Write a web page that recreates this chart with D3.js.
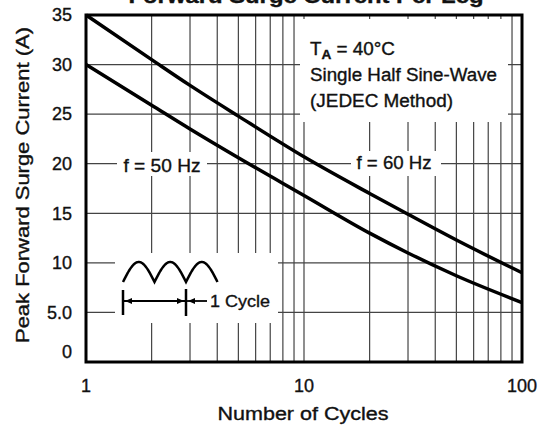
<!DOCTYPE html>
<html>
<head>
<meta charset="utf-8">
<script src="https://cdn.jsdelivr.net/npm/d3@7"></script>
<style>
  body { margin: 0; background: #fff; }
  text { font-family: "Liberation Sans", Arial, sans-serif; fill: #111; stroke: #111; stroke-width: 0.35px; }
</style>
</head>
<body>
<div id="chart"></div>
<script>
// values
const cycles = [1, 2, 3, 5, 10, 20, 30, 50, 100];
const surge60Hz = [35, 30.5, 27.9, 24.8, 20.7, 17.0, 14.9, 12.3, 9.0];
const surge50Hz = [30, 25.9, 23.5, 20.6, 16.8, 13.0, 11.0, 8.7, 6.0];
const yTicks = [0, 5, 10, 15, 20, 25, 30, 35];
const yTickLabels = ["0", "5.0", "10", "15", "20", "25", "30", "35"];
const xTicks = [1, 10, 100];
const xGrid = [2, 3, 4, 5, 6, 7, 8, 9, 10, 20, 30, 40, 50, 60, 70, 80, 90];
const yGrid = [5, 10, 15, 20, 25, 30];

const width = 543, height = 428;
const margin = { top: 15, right: 21, bottom: 66, left: 86 };
const w = width - margin.left - margin.right;
const h = height - margin.top - margin.bottom;

const svg = d3.select("#chart").append("svg")
  .attr("width", width)
  .attr("height", height);

const x = d3.scaleLog().domain([1, 100]).range([0, w]);
const y = d3.scaleLinear().domain([0, 35]).range([h, 0]);

// the scanned lettering is wider than Arial, so stretch to the measured widths
function stretch(sel, len) {
  return sel.attr("textLength", len).attr("lengthAdjust", "spacingAndGlyphs");
}

// title, mostly cut off at the top edge
stretch(svg.append("text")
  .attr("x", 306).attr("y", 3)
  .attr("text-anchor", "middle")
  .style("font-size", "20px").style("font-weight", "bold")
  .text("Forward Surge Current Per Leg"), 355);

const g = svg.append("g")
  .attr("transform", "translate(" + margin.left + "," + margin.top + ")");

// grid
g.selectAll("line.vgrid").data(xGrid).enter().append("line")
  .attr("class", "vgrid")
  .attr("x1", d => x(d)).attr("x2", d => x(d))
  .attr("y1", 0).attr("y2", h)
  .attr("stroke", "#444").attr("stroke-width", 1.2);

g.selectAll("line.hgrid").data(yGrid).enter().append("line")
  .attr("class", "hgrid")
  .attr("x1", 0).attr("x2", w)
  .attr("y1", d => y(d)).attr("y2", d => y(d))
  .attr("stroke", "#444").attr("stroke-width", 1.2);

// white boxes behind annotations
function blank(x0, y0, x1, y1) {
  g.append("rect")
    .attr("x", x0 - margin.left).attr("y", y0 - margin.top)
    .attr("width", x1 - x0).attr("height", y1 - y0)
    .attr("fill", "#fff");
}
blank(300, 19, 508, 122);
blank(351, 151, 441, 176);
blank(117, 152, 207, 176);
blank(115, 253, 278, 323);

// curves
const line = d3.line()
  .x(d => x(d[0]))
  .y(d => y(d[1]))
  .curve(d3.curveMonotoneX);

[surge60Hz, surge50Hz].forEach(function (s) {
  g.append("path")
    .datum(cycles.map((c, i) => [c, s[i]]))
    .attr("d", line)
    .attr("fill", "none")
    .attr("stroke", "#000")
    .attr("stroke-width", 3.5);
});

// frame
g.append("rect")
  .attr("width", w).attr("height", h)
  .attr("fill", "none")
  .attr("stroke", "#000").attr("stroke-width", 3);

// y tick labels
g.selectAll("text.ytick").data(yTicks).enter().append("text")
  .attr("class", "ytick")
  .attr("x", -14)
  .attr("y", d => y(d) + (d === 0 ? -10 : 0))
  .attr("dy", "0.35em")
  .attr("text-anchor", "end")
  .style("font-size", "18px")
  .text((d, i) => yTickLabels[i]);

// x tick labels
g.selectAll("text.xtick").data(xTicks).enter().append("text")
  .attr("class", "xtick")
  .attr("x", d => x(d))
  .attr("y", h + 24)
  .attr("dy", "0.35em")
  .attr("text-anchor", "middle")
  .style("font-size", "18px")
  .text(d => d);

// axis titles
stretch(svg.append("text")
  .attr("x", 303).attr("y", 420)
  .attr("text-anchor", "middle")
  .style("font-size", "18px")
  .text("Number of Cycles"), 171);

stretch(svg.append("text")
  .attr("transform", "translate(29,185) rotate(-90)")
  .attr("text-anchor", "middle")
  .style("font-size", "18px")
  .text("Peak Forward Surge Current (A)"), 316);

// conditions
const cond = svg.append("g").style("font-size", "18px");
const t1 = cond.append("text").attr("x", 310).attr("y", 55);
t1.append("tspan").text("T");
t1.append("tspan").attr("dy", 4).style("font-size", "13px").style("font-weight", "bold").text("A");
t1.append("tspan").attr("dy", -4).text(" = 40\u00B0C");
stretch(t1, 85);
stretch(cond.append("text").attr("x", 310).attr("y", 81).text("Single Half Sine-Wave"), 187);
stretch(cond.append("text").attr("x", 310).attr("y", 107).text("(JEDEC Method)"), 143);

// series labels
stretch(svg.append("text")
  .attr("x", 394).attr("y", margin.top + y(20) - 1)
  .attr("dy", "0.35em").attr("text-anchor", "middle")
  .style("font-size", "18px")
  .text("f = 60 Hz"), 75);
stretch(svg.append("text")
  .attr("x", 162).attr("y", margin.top + y(20) + 2)
  .attr("dy", "0.35em").attr("text-anchor", "middle")
  .style("font-size", "18px")
  .text("f = 50 Hz"), 77);

// one-cycle inset
const inset = svg.append("g").attr("transform", "translate(123,282)");
const humpW = 31.5, humpH = 20;
const wave = d3.range(0, 3 * 60 + 1).map(function (i) {
  const t = i / 60;
  return [t * humpW, -humpH * Math.abs(Math.sin(Math.PI * t))];
});
inset.append("path")
  .attr("d", d3.line()(wave))
  .attr("fill", "none").attr("stroke", "#000").attr("stroke-width", 2.5);

const aY = 19;
inset.append("line").attr("x1", 0).attr("x2", 0).attr("y1", 8).attr("y2", 33)
  .attr("stroke", "#000").attr("stroke-width", 2.5);
inset.append("line").attr("x1", 2 * humpW).attr("x2", 2 * humpW).attr("y1", 7).attr("y2", 34)
  .attr("stroke", "#000").attr("stroke-width", 2.5);
inset.append("line").attr("x1", 0).attr("x2", 2 * humpW).attr("y1", aY).attr("y2", aY)
  .attr("stroke", "#000").attr("stroke-width", 1.8);
inset.append("line").attr("x1", 2 * humpW).attr("x2", 84).attr("y1", aY).attr("y2", aY)
  .attr("stroke", "#000").attr("stroke-width", 1.8);
function arrow(tipX, dir) {
  inset.append("path")
    .attr("d", "M" + tipX + "," + aY + "L" + (tipX - dir * 7) + "," + (aY - 3) +
      "L" + (tipX - dir * 7) + "," + (aY + 3) + "Z")
    .attr("fill", "#000");
}
arrow(2, -1);
arrow(2 * humpW - 2, 1);
arrow(2 * humpW + 2, -1);
stretch(inset.append("text")
  .attr("x", 87).attr("y", aY)
  .attr("dy", "0.35em")
  .style("font-size", "17px")
  .text("1 Cycle"), 60);
</script>
</body>
</html>
